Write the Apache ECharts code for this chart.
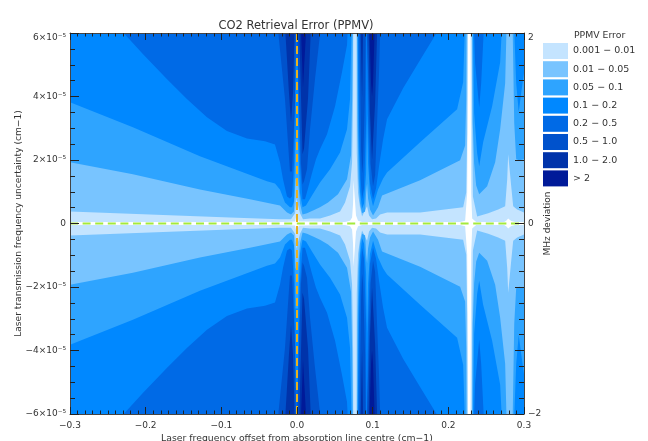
<!DOCTYPE html>
<html><head><meta charset="utf-8">
<style>html,body{margin:0;padding:0;background:#fff}#c{width:648px;height:441px;filter:blur(0.6px)}</style>
<script src="https://cdn.jsdelivr.net/npm/echarts@6/dist/echarts.min.js"></script>
</head><body><div id="c"></div>
<script>
// Contours: [frequency offset (cm-1), |uncertainty| (1e-5 cm-1)].
// Above the contour the error is in the named band; 7 = contour lies beyond the plot.
var band001=[[-0.3,0.05],[-0.0159,0.05],[-0.0026,0.06],[-0.0007,0.25],[0.0007,0.25],[0.0026,0.06],[0.0635,0.05],[0.0701,0.09],[0.0728,0.19],[0.0741,0.63],[0.0747,1.36],[0.0767,1.36],[0.078,0.25],[0.0807,0.09],[0.086,0.05],[0.09,0.05],[0.0926,0.09],[0.0952,0.05],[0.2156,0.05],[0.2222,0.09],[0.2249,0.95],[0.2262,7],[0.2292,7],[0.2302,0.95],[0.2315,0.16],[0.2368,0.05],[0.2738,0.05],[0.2765,0.09],[0.2791,0.16],[0.2804,0.16],[0.2831,0.08],[0.2884,0.05],[0.3,0.05]];
var band01=[[-0.3,0.38],[-0.1943,0.28],[-0.0886,0.19],[-0.0225,0.13],[-0.0079,0.13],[-0.0026,0.32],[-0.0007,0.79],[0.0007,0.79],[0.004,0.32],[0.0079,0.13],[0.0172,0.16],[0.0304,0.16],[0.0437,0.25],[0.0569,0.38],[0.0635,0.66],[0.0701,1.17],[0.0728,1.93],[0.0741,4.01],[0.0744,7],[0.0787,7],[0.079,2.21],[0.0807,0.95],[0.0833,0.51],[0.086,0.22],[0.0886,0.19],[0.0926,0.54],[0.0952,0.25],[0.0992,0.13],[0.1045,0.16],[0.1098,0.28],[0.1191,0.35],[0.1627,0.35],[0.2196,0.51],[0.2236,0.98],[0.2249,2.87],[0.2253,7],[0.2308,7],[0.2315,3.16],[0.2325,0.85],[0.2381,0.22],[0.2527,0.32],[0.2659,0.44],[0.2751,0.54],[0.2778,1.39],[0.2791,2.18],[0.2811,2.18],[0.2831,1.17],[0.2857,0.54],[0.291,0.44],[0.3,0.35]];
var band05=[[-0.3,1.93],[-0.2169,1.55],[-0.1283,1.07],[-0.0622,0.76],[-0.0225,0.57],[-0.0132,0.35],[-0.0079,0.28],[-0.004,0.38],[-0.002,1.42],[0.0013,1.42],[0.004,0.63],[0.0073,0.28],[0.0132,0.32],[0.0212,0.41],[0.0304,0.51],[0.041,0.66],[0.0542,0.92],[0.0661,1.39],[0.0714,2.15],[0.0728,3.92],[0.0741,7],[0.0793,7],[0.08,3.16],[0.0813,1.42],[0.0833,0.63],[0.086,0.32],[0.09,0.38],[0.0913,0.95],[0.0926,1.26],[0.0939,0.79],[0.0965,0.44],[0.1005,0.25],[0.1071,0.51],[0.1124,0.88],[0.1627,1.36],[0.2156,1.99],[0.2222,2.46],[0.2236,3.92],[0.2242,7],[0.2315,7],[0.2323,3.16],[0.2341,1.89],[0.2368,1.2],[0.2408,0.92],[0.2513,1.17],[0.2619,1.93],[0.2685,2.97],[0.2751,4.42],[0.2778,7],[0.2844,7],[0.2871,3.16],[0.2897,2.02],[0.2937,1.99],[0.3,2.02]];
var band1=[[-0.3,3.82],[-0.2169,3.03],[-0.1283,2.12],[-0.0397,1.33],[-0.0291,1.26],[-0.0225,1.07],[-0.0159,0.66],[-0.0093,0.51],[-0.0066,0.51],[-0.004,0.69],[-0.002,2.68],[0.0013,2.68],[0.004,0.95],[0.0073,0.51],[0.0119,0.57],[0.0198,0.88],[0.0304,1.29],[0.0437,1.71],[0.0569,2.24],[0.0661,2.97],[0.0701,3.92],[0.0728,7],[0.08,7],[0.0813,2.84],[0.0833,1.01],[0.086,0.47],[0.0886,0.63],[0.0913,1.58],[0.0926,3.47],[0.0939,1.89],[0.0965,0.95],[0.1005,0.54],[0.1071,1.07],[0.1138,1.42],[0.119,1.61],[0.1627,2.56],[0.2116,3.6],[0.2196,4.45],[0.2229,7],[0.2321,7],[0.2341,3.47],[0.2381,2.21],[0.2408,1.8],[0.246,2.56],[0.2579,3.69],[0.2685,5.08],[0.2725,7],[0.2857,7],[0.2897,4.42],[0.293,3.51],[0.2963,4.11],[0.3,4.74]];
var band2=[[-0.3,7],[-0.2302,6.03],[-0.2037,5.34],[-0.172,4.55],[-0.1455,3.92],[-0.119,3.35],[-0.0926,2.91],[-0.0661,2.68],[-0.0423,2.59],[-0.0291,2.49],[-0.0225,1.93],[-0.0185,1.39],[-0.0132,0.85],[-0.0093,0.79],[-0.0066,0.85],[-0.004,1.89],[-0.002,5.18],[0.0007,5.18],[0.004,1.89],[0.0073,0.76],[0.0106,0.76],[0.0146,1.11],[0.0198,1.58],[0.0251,2.02],[0.0304,2.34],[0.0397,2.81],[0.0503,3.69],[0.0595,4.77],[0.0661,5.62],[0.0688,7],[0.0807,7],[0.082,3.16],[0.084,1.42],[0.086,0.76],[0.0886,1.11],[0.0913,3.16],[0.0919,7],[0.093,7],[0.0939,3.16],[0.0965,1.26],[0.1005,0.76],[0.1045,1.11],[0.1084,1.8],[0.1138,2.65],[0.119,3.28],[0.1402,4.26],[0.1627,5.15],[0.1852,6.03],[0.1892,7],[0.2328,7],[0.2354,5.05],[0.2408,3.66],[0.2434,4.42],[0.2487,7],[0.3,7]];
var band5=[[-0.3,7],[-0.0251,7],[-0.0245,5.95],[-0.0159,3.92],[-0.0093,1.64],[-0.0066,1.64],[-0.0026,3.79],[-0.0013,7],[0.0013,7],[0.0053,1.89],[0.0073,1.23],[0.0093,1.33],[0.0132,1.71],[0.0172,2.97],[0.0238,4.55],[0.0304,5.95],[0.0317,7],[0.082,7],[0.0847,2.37],[0.086,1.58],[0.0873,1.89],[0.09,4.11],[0.0913,7],[0.0939,7],[0.0972,1.89],[0.1005,1.17],[0.1032,1.52],[0.1058,3.16],[0.1084,4.74],[0.1111,7],[0.3,7]];
var band10=[[-0.3,7],[-0.0159,7],[-0.0152,5.95],[-0.0106,4.11],[-0.0079,3.19],[-0.0053,4.11],[-0.002,7],[0.002,7],[0.0073,2.18],[0.0093,2.37],[0.0146,3.95],[0.0198,7],[0.0833,7],[0.086,3.98],[0.088,7],[0.0939,7],[0.0965,3.47],[0.0992,2.02],[0.1012,2.02],[0.1032,3.79],[0.1071,7],[0.3,7]];
var band20=[[-0.3,7],[0.004,7],[0.0079,4.29],[0.0142,7],[0.0946,7],[0.0979,4.42],[0.0992,4.01],[0.1005,4.42],[0.1038,7],[0.3,7]];

var bandNames=['0.001 − 0.01','0.01 − 0.05','0.05 − 0.1','0.1 − 0.2','0.2 − 0.5','0.5 − 1.0','1.0 − 2.0','> 2'];
var bandColors=['#c4e4ff','#78c4ff','#2ea4ff','#0088ff','#006ae6','#0052cc','#0033aa','#001a99'];
var contours=[band001,band01,band05,band1,band2,band5,band10,band20];
var mhzLabels={'6':'2','0':'0','-6':'−2'};
var freqLine=[[0,-6],[0,6]];
var uncLine=[[-0.3,0],[0.3,0]];

var ink='#333';
var font='"DejaVu Sans"';
var series=[];
contours.forEach(function(c,i){
  [1,-1].forEach(function(s){
    series.push({type:'line',name:bandNames[i],showSymbol:false,symbol:'none',silent:true,sampling:null,
      data:c.map(function(p){return [p[0],s*p[1]];}),
      itemStyle:{color:bandColors[i]},lineStyle:{width:0},
      areaStyle:{color:bandColors[i],opacity:1,origin:s>0?'end':'start'},z:2+i});
  });
});
series.push({type:'line',data:uncLine,symbol:'none',silent:true,z:20,lineStyle:{color:'#a4ea3c',width:2,type:[8,4.6]}});
series.push({type:'line',data:freqLine,symbol:'none',silent:true,z:21,lineStyle:{color:'#e8b020',width:2,type:[8,4]}});

function xLab(v){return v===0?'0.0':(v<0?'−':'')+Math.abs(v).toFixed(1);}
function yLab(v){return v===0?'0':(v<0?'−':'')+Math.abs(v)+'×10⁻⁵';}
var axisLine={show:true,onZero:false,lineStyle:{color:'#444',width:1}};
function xAx(pos,lab,name){return {type:'value',position:pos,min:-0.3,max:0.3,interval:0.1,z:50,
  axisLine:axisLine,splitLine:{show:false},
  axisTick:{show:true,inside:true,length:7,lineStyle:{color:'#222'}},
  minorTick:{show:true,splitNumber:10,length:3.5,lineStyle:{color:'#222'}},
  axisLabel:{show:lab,formatter:xLab,color:ink,fontSize:9,fontFamily:font,margin:7},
  name:name,nameLocation:'middle',nameGap:20,nameMoveOverlap:false,nameTextStyle:{color:ink,fontSize:9.3,fontFamily:font}};}
function yAx(pos,fmt,name,gap,nameSize){return {type:'value',position:pos,min:-6,max:6,interval:2,z:50,
  axisLine:axisLine,splitLine:{show:false},
  axisTick:{show:true,inside:true,length:9,lineStyle:{color:'#222'}},
  minorTick:{show:true,splitNumber:4,length:5,lineStyle:{color:'#222'}},
  axisLabel:{show:true,formatter:fmt,color:ink,fontSize:9,fontFamily:font,margin:4,verticalAlignMaxLabel:'top'},
  name:name,nameLocation:'middle',nameGap:gap,nameRotate:90,nameMoveOverlap:false,nameTextStyle:{color:ink,fontSize:nameSize,fontFamily:font}};}

var chart=echarts.init(document.getElementById('c'),null,{renderer:'canvas'});
chart.setOption({
  animation:false,backgroundColor:'#fff',
  title:[{text:'CO2 Retrieval Error (PPMV)',left:291,top:15,textAlign:'center',textStyle:{color:ink,fontSize:11.5,fontWeight:'normal',fontFamily:font}},
         {text:'PPMV Error',left:569,top:26,textStyle:{color:ink,fontSize:9.3,fontWeight:'normal',fontFamily:font}}],
  grid:{left:70,right:124,top:33,bottom:27,containLabel:false,outerBoundsMode:'none'},
  xAxis:[xAx('bottom',true,'Laser frequency offset from absorption line centre (cm−1)'),xAx('top',false,'')],
  yAxis:[yAx('left',yLab,'Laser transmission frequency uncertainty (cm−1)',47,9.1),
         yAx('right',function(v){return mhzLabels[String(v)]||'';},'MHz deviation',19,9)],
  legend:{orient:'vertical',left:543,top:43,padding:0,itemWidth:25,itemHeight:16,itemGap:2.2,icon:'rect',selectedMode:false,
    data:bandNames,textStyle:{color:ink,fontSize:9.5,fontFamily:font},itemStyle:{borderWidth:0}},
  series:series
});
</script></body></html>
